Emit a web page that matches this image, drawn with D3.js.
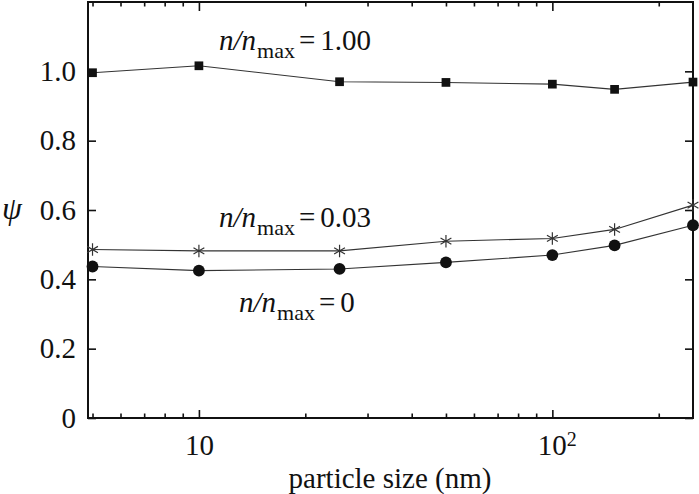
<!DOCTYPE html>
<html>
<head>
<meta charset="utf-8">
<script src="https://cdn.jsdelivr.net/npm/d3@7"></script>
<style>
  body { margin: 0; background: #fff; }
  svg { display: block; }
  text { font-family: "Liberation Serif", "Times New Roman", serif; fill: #111; }
</style>
</head>
<body>
<svg id="psi-graph" width="699" height="494"></svg>
<script>
// particle size (nm)
let sizes = [5, 10, 25, 50, 100, 150, 250];
// psi values
let psiFull = [0.996, 1.016, 0.970, 0.968, 0.963, 0.948, 0.969];   // n/nmax = 1.00
let psiLow = [0.486, 0.482, 0.482, 0.510, 0.518, 0.544, 0.614];    // n/nmax = 0.03
let psiZero = [0.437, 0.425, 0.430, 0.449, 0.470, 0.498, 0.556];   // n/nmax = 0

let yTicks = [0, 0.2, 0.4, 0.6, 0.8, 1.0];
let xMajor = [10, 100];
let xMinor = [5, 6, 7, 8, 9, 20, 30, 40, 50, 60, 70, 80, 90, 200];

let margins = {
  top: 2,
  right: 6,
  bottom: 76,
  left: 88
};

let width = 699 - margins.left - margins.right;
let height = 494 - margins.top - margins.bottom;

let xScale = d3.scaleLog().domain([4.855, 250]).range([0, width]);
let yScale = d3.scaleLinear().domain([0, 1.2]).range([height, 0]);

let graph = d3.select("#psi-graph")
  .append("g")
  .attr("transform", "translate(" + margins.left + "," + margins.top + ")");

// ticks point inward on all four sides
function tickAxis(g, axis) {
  g.call(axis);
  g.select(".domain").remove();
  g.selectAll(".tick line").style("stroke", "#111").style("stroke-width", 1.6);
}

graph.append("g")
  .attr("transform", "translate(0," + height + ")")
  .call(tickAxis, d3.axisBottom(xScale).tickValues(xMinor).tickSize(-4.5).tickFormat(""));
graph.append("g")
  .call(tickAxis, d3.axisTop(xScale).tickValues(xMinor).tickSize(-4.5).tickFormat(""));
graph.append("g")
  .call(tickAxis, d3.axisTop(xScale).tickValues(xMajor).tickSize(-9).tickFormat(""));

let xAxis = graph.append("g")
  .attr("transform", "translate(0," + height + ")")
  .call(tickAxis, d3.axisBottom(xScale).tickValues(xMajor).tickSize(-8).tickPadding(16).tickFormat(d => "10"));
xAxis.selectAll(".tick text")
  .style("font-size", "29px")
  .style("font-family", "Liberation Serif")
  .each(function(d) {
    if (d === 100) {
      d3.select(this).append("tspan")
        .attr("dy", "-0.45em")
        .style("font-size", "20px")
        .text("2");
      d3.select(this).attr("dx", "0.15em");
    }
  });

// y axis
let yAxis = graph.append("g")
  .call(tickAxis, d3.axisLeft(yScale).tickValues(yTicks).tickSize(-8).tickPadding(12)
    .tickFormat(d => d === 0 ? "0" : d3.format(".1f")(d)));
yAxis.selectAll(".tick text")
  .style("font-size", "29px")
  .style("font-family", "Liberation Serif");
graph.append("g")
  .attr("transform", "translate(" + width + ",0)")
  .call(tickAxis, d3.axisRight(yScale).tickValues(yTicks).tickSize(-8).tickFormat(""));

// frame
graph.append("rect")
  .attr("width", width)
  .attr("height", height)
  .style("fill", "none")
  .style("stroke", "#111")
  .style("stroke-width", 2);

let line = d3.line()
  .x(function(d) { return xScale(d[0]); })
  .y(function(d) { return yScale(d[1]); });

let series = [
  { values: psiFull, mark: "square" },
  { values: psiLow, mark: "star" },
  { values: psiZero, mark: "circle" }
];

series.forEach(function(s) {
  let pts = sizes.map((x, i) => [x, s.values[i]]);
  graph.append("path")
    .attr("d", line(pts))
    .style("fill", "none")
    .style("stroke", "#333")
    .style("stroke-width", 1.1);

  let marks = graph.append("g").selectAll("path")
    .data(pts)
    .join("path")
    .attr("transform", d => "translate(" + xScale(d[0]) + "," + yScale(d[1]) + ")");
  if (s.mark === "square") {
    marks.attr("d", d3.symbol(d3.symbolSquare, 76)()).style("fill", "#111");
  } else if (s.mark === "circle") {
    marks.attr("d", d3.symbol(d3.symbolCircle, 110)()).style("fill", "#111");
  } else {
    marks.attr("d", d3.symbol(d3.symbolAsterisk, 110)())
      .style("fill", "none")
      .style("stroke", "#333")
      .style("stroke-width", 1.2);
  }
});

// curve labels
let labels = [
  { x: 219, y: 50, value: "1.00" },
  { x: 219, y: 227, value: "0.03" },
  { x: 239, y: 312, value: "0" }
];
labels.forEach(function(l) {
  let t = graph.append("text")
    .attr("x", l.x - margins.left)
    .attr("y", l.y - margins.top)
    .style("font-size", "29px");
  t.append("tspan").style("font-style", "italic").text("n/n");
  t.append("tspan").attr("dx", 1).attr("dy", 8).style("font-size", "22px").text("max");
  t.append("tspan").attr("dx", 4).attr("dy", -8).text("=");
  t.append("tspan").attr("dx", 5).text(l.value);
});

// axis titles
d3.select("#psi-graph").append("text")
  .attr("x", 390)
  .attr("y", 488)
  .attr("text-anchor", "middle")
  .style("font-size", "29px")
  .text("particle size (nm)");

d3.select("#psi-graph").append("text")
  .attr("x", 12)
  .attr("y", 219)
  .attr("text-anchor", "middle")
  .style("font-size", "32px")
  .style("font-style", "italic")
  .text("ψ");
</script>
</body>
</html>
